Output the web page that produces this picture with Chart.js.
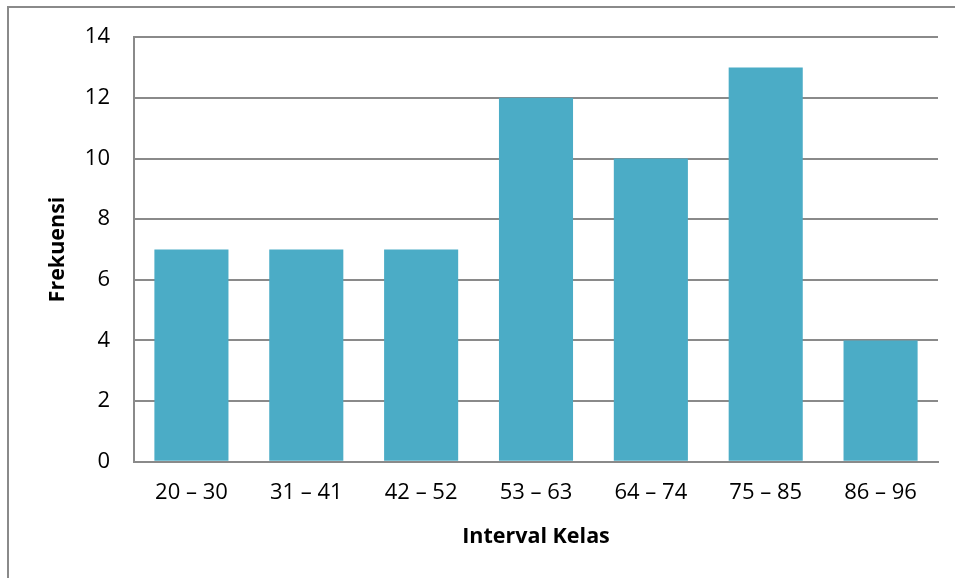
<!DOCTYPE html>
<html>
<head>
<meta charset="utf-8">
<script src="https://cdn.jsdelivr.net/npm/chart.js@4"></script>
<style>
  html, body { margin: 0; padding: 0; background: #fff; }
  #wrap { width: 955px; height: 578px; position: relative; }
</style>
</head>
<body>
<div id="wrap"><canvas id="mycanvas" width="955" height="578"></canvas></div>
<script>
// data
var kelas = ['20 – 30', '31 – 41', '42 – 52', '53 – 63', '64 – 74', '75 – 85', '86 – 96'];
var frekuensi = [7, 7, 7, 12, 10, 13, 4];
var yTicks = [0, 2, 4, 6, 8, 10, 12, 14];

var fontName = "Open Sans, Liberation Sans, sans-serif";

// grey frame round the whole chart (runs off the right and bottom edge)
var frame = {
  id: 'frame',
  beforeDraw: function(chart) {
    var c = chart.ctx;
    c.save();
    c.fillStyle = '#fff';
    c.fillRect(0, 0, chart.width, chart.height);
    c.strokeStyle = '#8a8a8a';
    c.lineWidth = 2;
    c.strokeRect(8, 7, chart.width + 20, chart.height + 20);
    c.restore();
  }
};

var ctx = document.getElementById('mycanvas');
var barGraph = new Chart(ctx, {
  type: 'bar',
  data: {
    labels: kelas,
    datasets: [{
      label: 'Frekuensi',
      data: frekuensi,
      backgroundColor: '#4bacc6',
      borderWidth: 0,
      categoryPercentage: 1,
      barPercentage: 0.645
    }]
  },
  options: {
    responsive: false,
    animation: false,
    layout: { padding: { left: 45, top: 37, right: 17, bottom: 24 } },
    plugins: { legend: { display: false }, tooltip: { enabled: false } },
    scales: {
      x: {
        grid: { display: false, drawTicks: false },
        border: { display: true, color: '#8a8a8a', width: 2 },
        ticks: { color: '#000', font: { family: fontName, size: 22 }, padding: 18 },
        title: { display: true, text: 'Interval Kelas', color: '#000',
                 font: { family: fontName, size: 21.5, weight: 'bold' }, padding: { top: 0, bottom: 4 } }
      },
      y: {
        min: 0,
        max: 14,
        afterBuildTicks: function(axis) {
          axis.ticks = yTicks.map(function(v) { return { value: v }; });
        },
        afterFit: function(axis) { axis.width = 89; },
        grid: { color: '#8a8a8a', lineWidth: 2, drawTicks: false },
        border: { display: true, color: '#8a8a8a', width: 2 },
        ticks: { color: '#000', font: { family: fontName, size: 22 }, padding: 24 },
        title: { display: true, text: 'Frekuensi', color: '#000',
                 font: { family: fontName, size: 21.5, weight: 'bold' }, padding: { top: 0, bottom: 0 } }
      }
    }
  },
  plugins: [frame]
});
</script>
</body>
</html>
